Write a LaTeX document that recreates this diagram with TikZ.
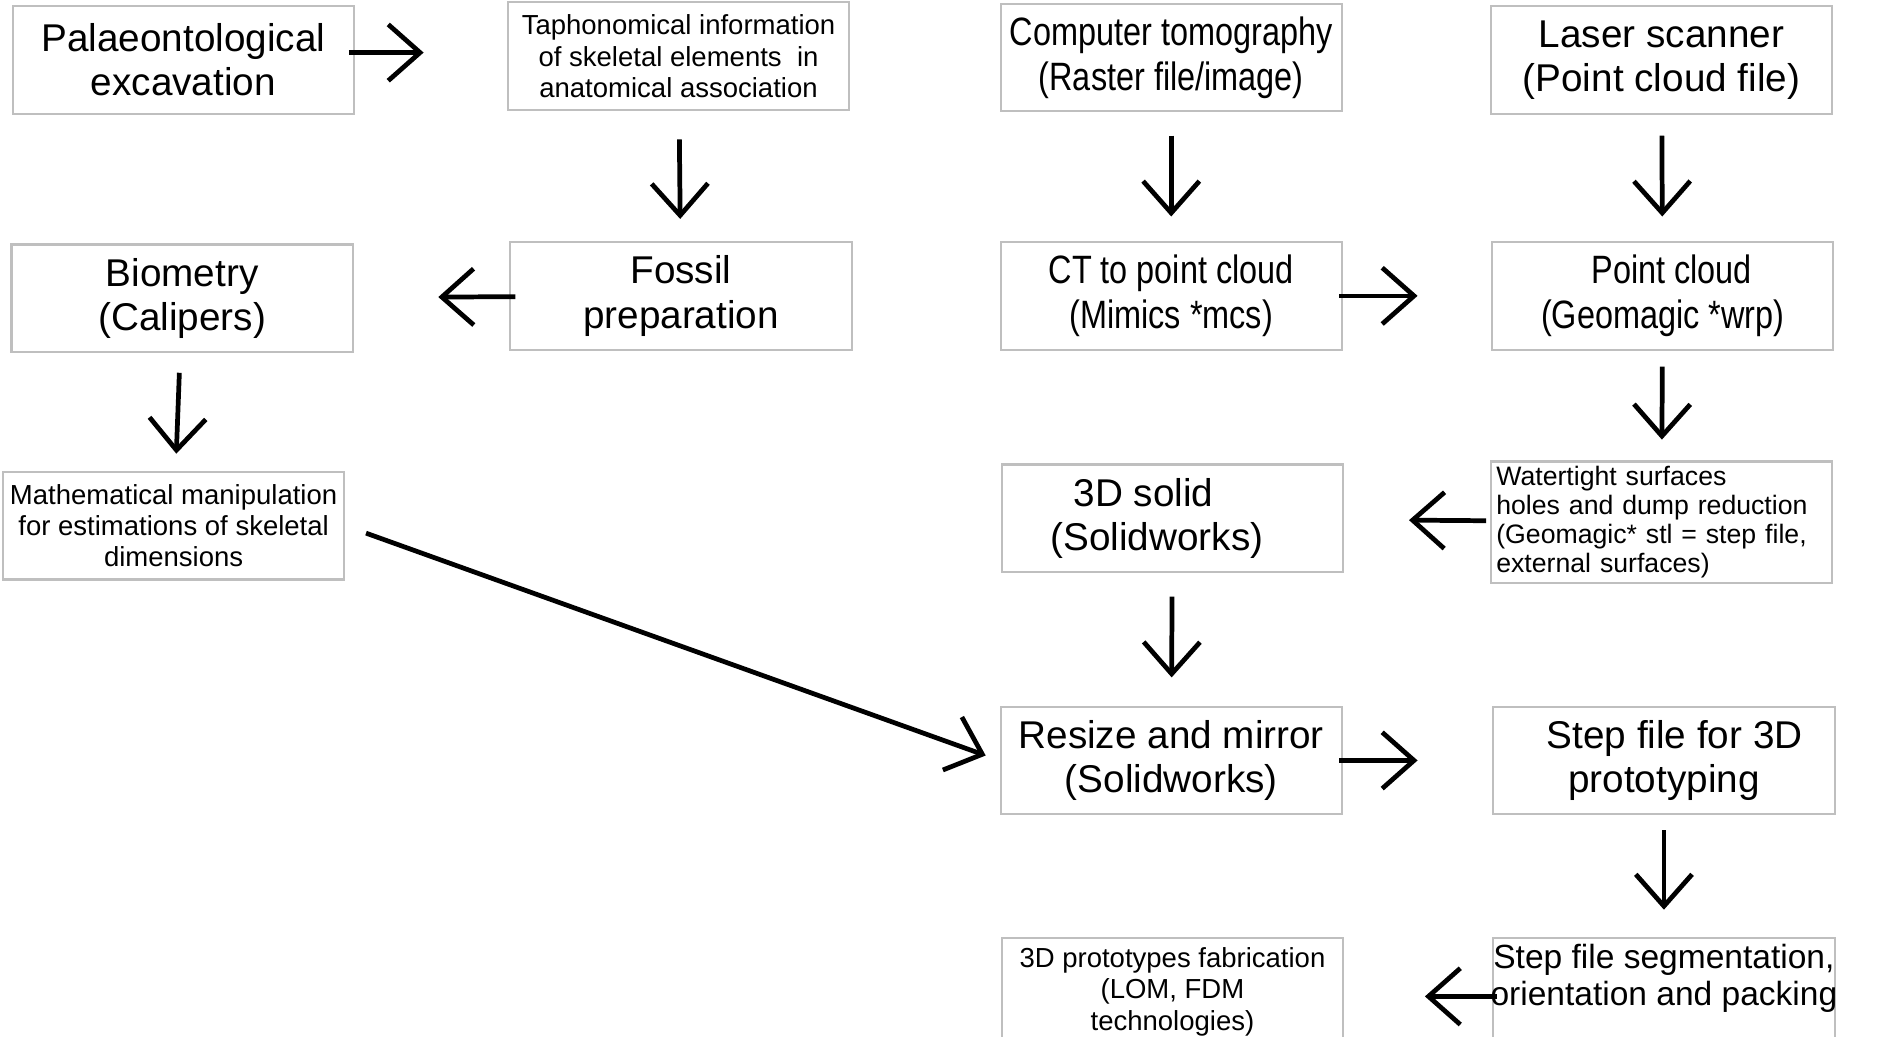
\documentclass[tikz,border=0pt]{standalone}
\usepackage{fontspec}
\setmainfont{Liberation Sans}
\newfontfamily\narrowfont[FakeStretch=0.82]{Liberation Sans}
\usetikzlibrary{arrows.meta}
\tikzset{
  box/.style={draw=black!25, line width=0.5pt, minimum width=2.79cm, minimum height=0.88cm, inner sep=1pt, align=center},
  big/.style={font=\fontsize{9}{10.3}\selectfont},
  bignarrow/.style={font=\narrowfont\fontsize{9.2}{10.5}\selectfont},
  small/.style={font=\fontsize{6.4}{7.3}\selectfont},
  flow/.style={-{Straight Barb[length=2.6mm,width=4.6mm,line width=1.1pt]}, line width=1.1pt}
}
\begin{document}
\begin{tikzpicture}[x=0.01cm, y=-0.01cm]
        \useasboundingbox (0,0) rectangle (1550,848);
        % Top row
        \node[box, big] (excav) at (150,49) {Palaeontological\\excavation};
        \node[box, small] (tapho) at (555,46) {Taphonomical information\\of skeletal elements\ \ in\\anatomical association};
        \node[box, bignarrow] (ct) at (958,47) {Computer tomography\\(Raster file/image)};
        \node[box, big] (laser) at (1359,49) {Laser scanner\\(Point cloud file)};
        
        % Second row
        \node[box, big] (biom) at (149,244) {Biometry\\(Calipers)};
        \node[box, big] (fossil) at (557,242) {Fossil\\preparation};
        \node[box, bignarrow] (ctpc) at (958,242) {CT to point cloud\\(Mimics *mcs)};
        \node[box, bignarrow] (pc) at (1360,242) {\ \ Point cloud\\(Geomagic *wrp)};
        
        % Third row
        \node[box, small] (math) at (142,430) {Mathematical manipulation\\for estimations of skeletal\\dimensions};
        \node[box, big] (solid) at (959,424) {3D solid\hspace*{1.5em}\\(Solidworks)\hspace*{0.8em}};
        \node[box, font=\fontsize{6.2}{6.8}\selectfont, align=left, text width=2.7cm] (water) at (1359,427) {Watertight surfaces\\holes and dump reduction\\(Geomagic* stl = step file,\\external surfaces)};
        
        % Fourth row
        \node[box, big] (resize) at (958,622) {Resize and mirror\\(Solidworks)};
        \node[box, big] (step) at (1361,622) {\ \ Step file for 3D\\prototyping};
        
        % Bottom row
        \node[box, small] (proto) at (959,811) {3D prototypes fabrication\\(LOM, FDM\\technologies)};
        \node[box, minimum height=0.88cm, font=\fontsize{7.8}{8.6}\selectfont] (segm) at (1361,811) {};
        \node[font=\fontsize{7.8}{8.6}\selectfont, align=center] (segmtxt) at (1361,800) {Step file segmentation,\\orientation and packing};
        
        % Connections
        \draw[flow, shorten <=-0.05cm, shorten >=0.68cm] (excav.east |- 0,43) -- (tapho.west |- 0,43);
        \draw[flow, shorten <=0.23cm, shorten >=0.18cm] (tapho) -- (fossil);
        \draw[flow, shorten <=-0.05cm, shorten >=0.69cm] (fossil) -- (biom);
        \draw[flow, shorten <=0.16cm, shorten >=0.14cm] (biom) -- (math);
        \draw[flow, shorten <=0.18cm, shorten >=0.12cm] (math.east) -- (resize.west);
        \draw[flow, shorten <=0.19cm, shorten >=0.2cm] (ct) -- (ctpc);
        \draw[flow, shorten <=-0.03cm, shorten >=0.6cm] (ctpc) -- (pc);
        \draw[flow, shorten <=0.17cm, shorten >=0.2cm] (laser) -- (pc);
        \draw[flow, shorten <=0.13cm, shorten >=0.17cm] (pc) -- (water);
        \draw[flow, shorten <=0.03cm, shorten >=0.53cm] (water) -- (solid);
        \draw[flow, shorten <=0.19cm, shorten >=0.23cm] (solid) -- (resize);
        \draw[flow, shorten <=-0.03cm, shorten >=0.61cm] (resize) -- (step);
        \draw[flow, shorten <=0.12cm, shorten >=0.22cm] (step) -- (segm);
        \draw[flow, shorten <=-0.04cm, shorten >=0.66cm] (segm.west |- 0,815) -- (proto.east |- 0,815);
\end{tikzpicture}
\end{document}
